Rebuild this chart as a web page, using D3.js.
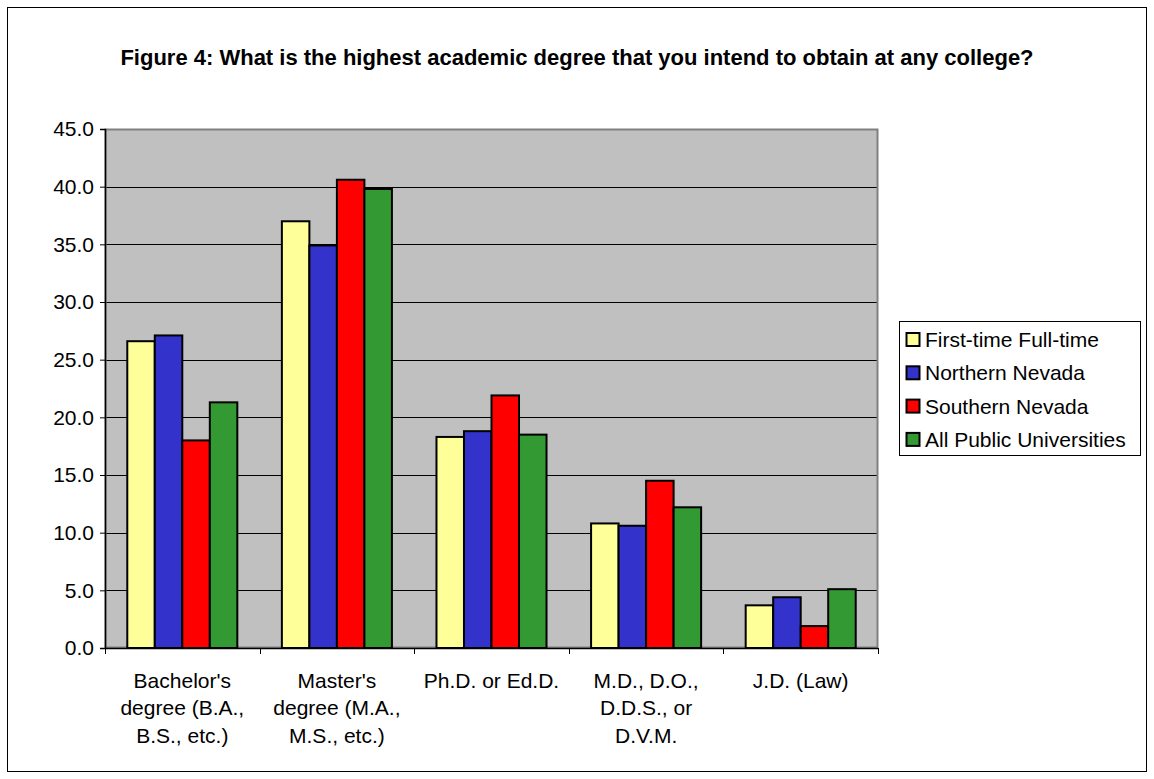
<!DOCTYPE html>
<html>
<head>
<meta charset="utf-8">
<script src="https://cdn.jsdelivr.net/npm/d3@7"></script>
<style>
  html, body { margin: 0; padding: 0; background: #fff; }
  svg { display: block; }
  text { font-family: "Liberation Sans", Arial, sans-serif; fill: #000; }
</style>
</head>
<body>
<svg id="chart" width="1154" height="779"></svg>
<script>
const titleText = "Figure 4: What is the highest academic degree that you intend to obtain at any college?";
const categories = [
  ["Bachelor's", "degree (B.A.,", "B.S., etc.)"],
  ["Master's", "degree (M.A.,", "M.S., etc.)"],
  ["Ph.D. or Ed.D."],
  ["M.D., D.O.,", "D.D.S., or", "D.V.M."],
  ["J.D. (Law)"]
];
const seriesNames = ["First-time Full-time", "Northern Nevada", "Southern Nevada", "All Public Universities"];
const firstTimeFullTime = [26.6, 37.0, 18.3, 10.8, 3.7];
const northernNevada    = [27.1, 34.9, 18.8, 10.6, 4.4];
const southernNevada    = [18.0, 40.6, 21.9, 14.5, 1.9];
const allPublic         = [21.3, 39.8, 18.5, 12.2, 5.1];
const yTicks = [0, 5, 10, 15, 20, 25, 30, 35, 40, 45];
const colors = ["#FFFF99", "#3333CC", "#FF0000", "#339933"];

const seriesValues = [firstTimeFullTime, northernNevada, southernNevada, allPublic];
const catKeys = categories.map((c, i) => "c" + i);

const svg = d3.select("#chart");

// outer border
svg.append("rect").attr("x", 7.5).attr("y", 7.5).attr("width", 1139).attr("height", 764)
  .attr("fill", "#fff").attr("stroke", "#000").attr("stroke-width", 1);

// title
svg.append("text").attr("x", 577).attr("y", 65).attr("text-anchor", "middle")
  .style("font-weight", "bold").style("font-size", "22px").text(titleText);

const plot = { left: 105, right: 878, top: 129, bottom: 648 };

const x0 = d3.scaleBand().domain(catKeys).range([plot.left, plot.right]).padding(0);
const x1 = d3.scaleBand().domain(seriesNames).range([0, x0.bandwidth()]).paddingInner(0).paddingOuter(0.81);
const y = d3.scaleLinear().domain([0, 45]).range([plot.bottom, plot.top]);

// plot background
svg.append("rect").attr("x", plot.left).attr("y", plot.top)
  .attr("width", plot.right - plot.left).attr("height", plot.bottom - plot.top)
  .attr("fill", "#C0C0C0");

// gridlines
svg.append("g").selectAll("line").data(yTicks.filter(t => t > 0 && t < 45)).join("line")
  .attr("x1", plot.left).attr("x2", plot.right)
  .attr("y1", d => Math.round(y(d)) + 0.5).attr("y2", d => Math.round(y(d)) + 0.5)
  .attr("stroke", "#000").attr("stroke-width", 1);

// plot border (gray)
svg.append("rect").attr("x", plot.left + 0.5).attr("y", plot.top + 0.5)
  .attr("width", plot.right - plot.left - 1).attr("height", plot.bottom - plot.top - 1)
  .attr("fill", "none").attr("stroke", "#808080").attr("stroke-width", 2);

// bars
const groups = svg.append("g").selectAll("g").data(catKeys).join("g")
  .attr("transform", d => `translate(${x0(d)},0)`);
groups.selectAll("rect").data((d, i) => seriesNames.map((s, j) => ({ s, j, v: seriesValues[j][i] })))
  .join("rect")
  .attr("x", d => x1(d.s))
  .attr("y", d => y(d.v))
  .attr("width", x1.bandwidth())
  .attr("height", d => y(0) - y(d.v))
  .attr("fill", d => colors[d.j])
  .attr("stroke", "#000").attr("stroke-width", 2);

// y axis
const yAxis = d3.axisLeft(y).tickValues(yTicks).tickFormat(d3.format(".1f")).tickSizeOuter(0).tickSize(5).tickPadding(6);
const gy = svg.append("g").attr("transform", `translate(${plot.left},0)`).call(yAxis);
gy.select(".domain").attr("stroke", "#000").attr("stroke-width", 1.5);
gy.selectAll(".tick line").attr("stroke", "#000");
gy.selectAll(".tick text").style("font-size", "21px").style("font-family", "Liberation Sans, Arial, sans-serif").attr("fill", "#000");

// x axis line and ticks at boundaries
const boundaries = catKeys.map(k => x0(k)).concat([plot.right]);
svg.append("line").attr("x1", plot.left).attr("x2", plot.right)
  .attr("y1", plot.bottom + 0.5).attr("y2", plot.bottom + 0.5).attr("stroke", "#000").attr("stroke-width", 1.5);
svg.append("g").selectAll("line").data(boundaries).join("line")
  .attr("x1", d => Math.round(d) + 0.5).attr("x2", d => Math.round(d) + 0.5)
  .attr("y1", plot.bottom).attr("y2", plot.bottom + 6).attr("stroke", "#000");

// x labels
const xl = svg.append("g").selectAll("text").data(categories).join("text")
  .attr("x", (d, i) => x0(catKeys[i]) + x0.bandwidth() / 2)
  .attr("y", 687.5)
  .attr("text-anchor", "middle")
  .style("font-size", "21px");
xl.selectAll("tspan").data(d => d).join("tspan")
  .attr("x", function () { return d3.select(this.parentNode).attr("x"); })
  .attr("dy", (d, i) => i === 0 ? 0 : 27.5)
  .text(d => d);

// legend
const lg = svg.append("g");
lg.append("rect").attr("x", 899.5).attr("y", 321.5).attr("width", 241).attr("height", 134)
  .attr("fill", "#fff").attr("stroke", "#000").attr("stroke-width", 1);
const items = lg.selectAll("g").data(seriesNames).join("g")
  .attr("transform", (d, i) => `translate(0,${339.5 + i * 33.3})`);
items.append("rect").attr("x", 906.5).attr("y", -6.5).attr("width", 13).attr("height", 13)
  .attr("fill", (d, i) => colors[i]).attr("stroke", "#000").attr("stroke-width", 2);
items.append("text").attr("x", 925).attr("y", 7.5).style("font-size", "21px").text(d => d);
</script>
</body>
</html>
